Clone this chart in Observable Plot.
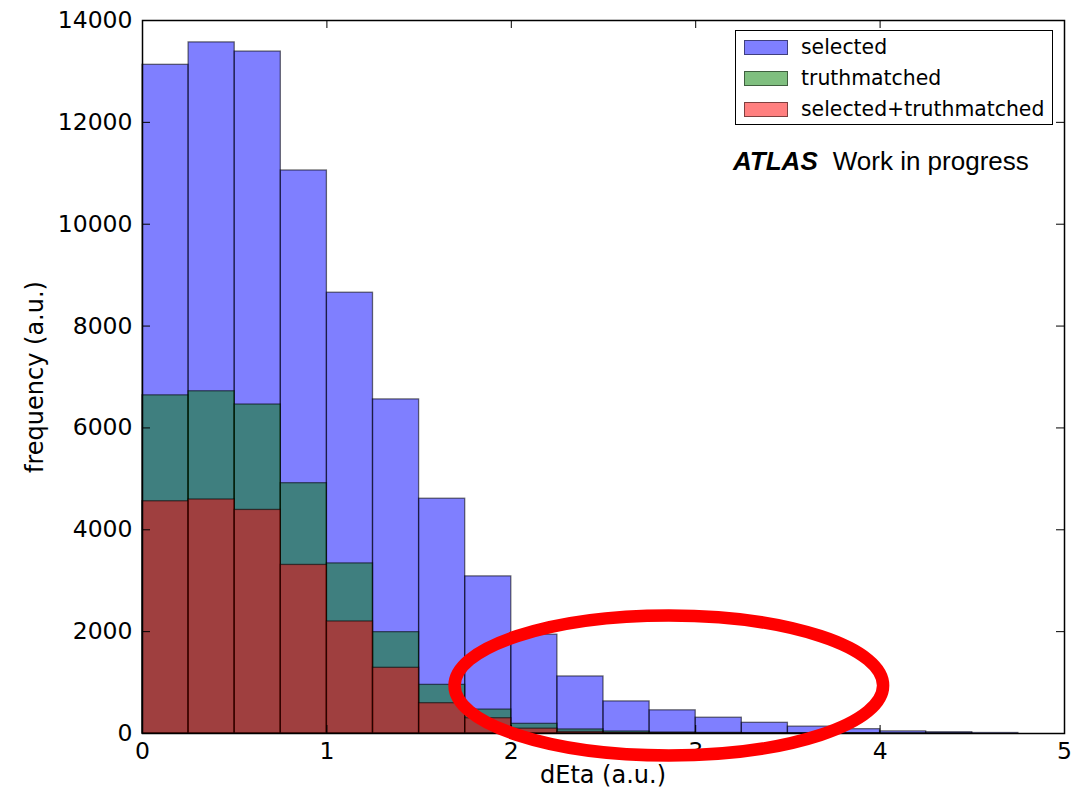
<!DOCTYPE html>
<html>
<head>
<meta charset="utf-8">
<script src="https://cdn.jsdelivr.net/npm/d3@7"></script>
<script src="https://cdn.jsdelivr.net/npm/@observablehq/plot@0.6"></script>
<style>
  html, body { margin: 0; padding: 0; background: #fff; }
  #wrap { position: relative; width: 1089px; height: 791px; font-family: "DejaVu Sans", sans-serif; color: #000; }
  #wrap svg { display: block; }
  .ylab { position: absolute; left: 35px; top: 377px; transform: translate(-50%, -50%) rotate(-90deg); font-size: 24px; white-space: nowrap; line-height: 1; }
  .xlab { position: absolute; left: 603px; top: 775px; transform: translate(-50%, -50%); font-size: 24px; white-space: nowrap; line-height: 1; }
  .legend { position: absolute; left: 735px; top: 30px; width: 316px; height: 93px; border: 1.5px solid #000; background: #fff; }
  .legend .row { position: absolute; left: 8px; height: 20px; display: flex; align-items: center; font-size: 20.4px; white-space: nowrap; }
  .legend .sw { width: 42px; height: 13px; border: 1px solid rgba(0,0,0,0.5); margin-right: 13px; }
  .atlas { position: absolute; left: 733px; top: 148px; font-family: "Liberation Sans", Arial, sans-serif; font-size: 26px; line-height: 1; white-space: nowrap; }
  .atlas b { font-style: italic; font-weight: bold; margin-right: 15px; }
</style>
</head>
<body>
<div id="wrap"></div>
<script>
// Histogram bin edges (dEta, a.u.)
const binEdges = [0, 0.25, 0.5, 0.75, 1.0, 1.25, 1.5, 1.75, 2.0, 2.25, 2.5, 2.75, 3.0, 3.25, 3.5, 3.75, 4.0, 4.25, 4.5, 4.75];
// Counts per bin
const selected = [13130, 13570, 13390, 11055, 8655, 6560, 4610, 3085, 1940, 1120, 630, 455, 310, 210, 135, 85, 42, 25, 10];
const truthmatched = [6640, 6720, 6460, 4915, 3340, 1990, 955, 470, 190, 80, 40, 20, 12, 8, 5, 3, 2, 1, 0];
const selectedTruthmatched = [4560, 4595, 4390, 3310, 2200, 1290, 595, 300, 95, 30, 12, 6, 4, 2, 1, 1, 0, 0, 0];
const seriesNames = ["selected", "truthmatched", "selected+truthmatched"];
const seriesColors = ["blue", "green", "red"];
const xTicks = [0, 1, 2, 3, 4, 5];
const yTicks = [0, 2000, 4000, 6000, 8000, 10000, 12000, 14000];
// Annotation ellipse (data units): center x, center y, radius x, radius y
const ellipseCenter = [2.857, 933];
const ellipseRadii = [1.162, 1374];

const W = 1089, H = 791;
const mL = 142, mR = 25, mT = 20, mB = 58;
const plotW = W - mL - mR, plotH = H - mT - mB;
const tickLen = 8;

const rows = (vals) => vals.map((v, i) => ({x1: binEdges[i], x2: binEdges[i + 1], y: v}));
const series = [selected, truthmatched, selectedTruthmatched];

const barMarks = series.map((vals, k) =>
  Plot.rectY(rows(vals), {
    x1: "x1", x2: "x2", y: "y",
    fill: seriesColors[k], fillOpacity: 0.5,
    stroke: "black", strokeOpacity: 0.55, strokeWidth: 1.3,
    inset: 0
  })
);

const plot = Plot.plot({
  width: W, height: H,
  marginLeft: mL, marginRight: mR, marginTop: mT, marginBottom: mB,
  style: {fontFamily: "DejaVu Sans", fontSize: "23.5px", color: "#000", background: "transparent", overflow: "visible"},
  x: {domain: [0, 5], ticks: xTicks, tickSize: 0, tickPadding: 9, label: null, tickFormat: d => String(d)},
  y: {domain: [0, 14000], ticks: yTicks, tickSize: 0, tickPadding: 10, label: null, tickFormat: d => String(d)},
  marks: [
    ...barMarks,
    Plot.ruleX(xTicks, {x: d => d, insetTop: plotH - tickLen, stroke: "black", strokeWidth: 1}),
    Plot.ruleX(xTicks, {x: d => d, insetBottom: plotH - tickLen, stroke: "black", strokeWidth: 1}),
    Plot.ruleY(yTicks, {y: d => d, insetRight: plotW - tickLen, stroke: "black", strokeWidth: 1}),
    Plot.ruleY(yTicks, {y: d => d, insetLeft: plotW - tickLen, stroke: "black", strokeWidth: 1}),
    Plot.frame({stroke: "black", strokeWidth: 1.5})
  ]
});

// Red annotation ellipse placed through the plot's scales
const xs = plot.scale("x"), ys = plot.scale("y");
const cx = xs.apply(ellipseCenter[0]), cy = ys.apply(ellipseCenter[1]);
const rx = xs.apply(ellipseCenter[0] + ellipseRadii[0]) - cx;
const ry = cy - ys.apply(ellipseCenter[1] + ellipseRadii[1]);
const ns = "http://www.w3.org/2000/svg";
const el = document.createElementNS(ns, "ellipse");
el.setAttribute("cx", cx); el.setAttribute("cy", cy);
el.setAttribute("rx", rx); el.setAttribute("ry", ry);
el.setAttribute("fill", "none"); el.setAttribute("stroke", "#ff0000"); el.setAttribute("stroke-width", 12.5);
plot.appendChild(el);

const wrap = document.getElementById("wrap");
wrap.appendChild(plot);

// Axis labels
const yl = document.createElement("div"); yl.className = "ylab"; yl.textContent = "frequency (a.u.)"; wrap.appendChild(yl);
const xl = document.createElement("div"); xl.className = "xlab"; xl.textContent = "dEta (a.u.)"; wrap.appendChild(xl);

// Legend
const lg = document.createElement("div"); lg.className = "legend";
const swatchFill = ["rgba(0,0,255,0.5)", "rgba(0,128,0,0.5)", "rgba(255,0,0,0.5)"];
seriesNames.forEach((name, i) => {
  const r = document.createElement("div"); r.className = "row";
  r.style.top = (6 + i * 31) + "px";
  const sw = document.createElement("div"); sw.className = "sw"; sw.style.background = swatchFill[i];
  const t = document.createElement("span"); t.textContent = name;
  r.appendChild(sw); r.appendChild(t); lg.appendChild(r);
});
wrap.appendChild(lg);

// ATLAS label
const at = document.createElement("div"); at.className = "atlas";
at.innerHTML = "<b>ATLAS</b>Work in progress";
wrap.appendChild(at);
</script>
</body>
</html>
